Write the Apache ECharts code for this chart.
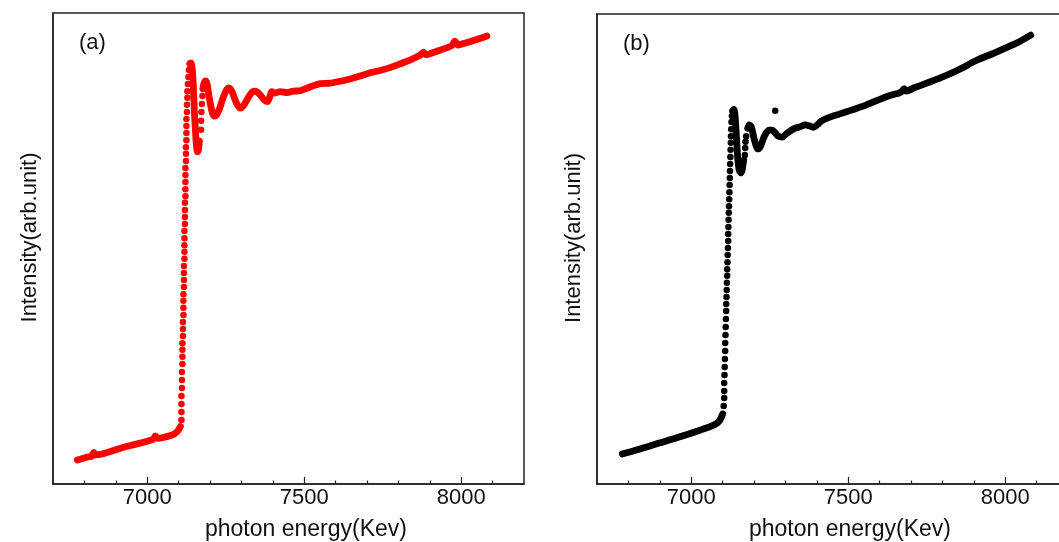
<!DOCTYPE html>
<html>
<head>
<meta charset="utf-8">
<script src="https://cdn.jsdelivr.net/npm/echarts@6/dist/echarts.min.js"></script>
<style>
html,body{margin:0;padding:0;background:#fff;}
#chart{width:1059px;height:542px;}
</style>
</head>
<body>
<div id="chart"></div>
<script>
// ---- tick labels / axis ----
const majorTicks = [7000, 7500, 8000];
const minorTicks = [6800, 6900, 7100, 7200, 7300, 7400, 7600, 7700, 7800, 7900, 8100];
const xName = 'photon energy(Kev)';
const yName = 'Intensity(arb.unit)';
const panelLabels = ['(a)', '(b)'];

// ---- panel (a): [energy, intensity] ----
const preA = [[6777.5,5.1],[6813.4,5.8],[6822.9,5.9],[6830.3,6.7],[6837.3,6.2],[6915.1,7.6],[7010.5,9.3],[7020.0,9.6],[7026.4,10.2],[7032.8,9.7],[7079.5,10.4],[7095.4,11.1],[7105.8,12.2]];
const jumpA = [[7109.0,13.6],[7109.0,15.3],[7109.0,17.0],[7109.0,18.7],[7110.6,20.4],[7110.6,22.1],[7110.6,23.8],[7112.2,25.5],[7112.2,27.0],[7112.2,28.5],[7112.2,29.9],[7113.8,31.4],[7113.8,32.9],[7113.8,34.4],[7115.4,35.9],[7115.4,37.4],[7115.4,38.9],[7115.4,40.3],[7117.0,41.8],[7117.0,43.3],[7117.0,44.8],[7117.0,46.3],[7118.6,47.8],[7118.6,49.3],[7118.6,50.7],[7118.6,52.2],[7118.6,53.7],[7120.2,55.2],[7120.2,56.7],[7120.2,58.2],[7120.2,59.7],[7121.7,61.1],[7121.7,62.6],[7121.7,64.1],[7121.7,65.6],[7121.7,67.1],[7123.3,68.6],[7123.3,70.1],[7123.3,71.5],[7124.9,73.0],[7124.9,74.5],[7124.9,76.0],[7124.9,77.5],[7126.5,79.0],[7126.5,80.5],[7128.1,82.0],[7128.1,83.4],[7129.7,84.9],[7131.3,86.4],[7132.9,87.9],[7136.0,89.2]];
const peakA = [[7136.0,89.2],[7139.2,89.4],[7142.4,88.7],[7145.5,86.2],[7148.1,82.6],[7150.3,79.0],[7153.5,75.2],[7156.7,72.0],[7159.9,70.5],[7163.1,70.9],[7166.2,72.8]];
const riseA = [[7171.6,75.2],[7171.6,77.1],[7172.6,79.0],[7174.2,80.7],[7175.8,82.4]];
const postA = [[7177.4,83.9],[7180.5,85.0],[7185.3,85.6],[7190.1,85.1],[7194.8,83.2],[7201.2,80.7],[7207.6,78.8],[7213.9,78.1],[7220.3,78.3],[7229.8,79.6],[7239.3,81.5],[7248.9,83.2],[7258.4,84.1],[7268.0,83.6],[7277.5,82.0],[7287.0,80.5],[7296.6,79.8],[7306.1,80.3],[7318.8,81.7],[7331.5,83.0],[7341.1,83.4],[7350.6,83.2],[7360.1,82.6],[7372.8,81.5],[7382.4,81.2],[7390.3,82.2],[7396.7,83.3],[7404.6,83.0],[7423.7,83.3],[7446.0,83.1],[7465.0,83.4],[7487.3,83.5],[7503.2,83.9],[7519.1,84.3],[7550.9,85.0],[7582.6,85.1],[7614.4,85.5],[7646.2,86.0],[7678.0,86.6],[7709.8,87.3],[7741.6,87.8],[7773.4,88.4],[7805.2,89.2],[7837.0,90.0],[7862.4,90.8],[7872.0,91.2],[7879.8,91.7],[7887.8,91.1],[7906.8,91.5],[7932.3,92.1],[7957.7,92.7],[7970.4,93.1],[7980.0,94.0],[7989.5,93.2],[8005.4,93.5],[8027.7,93.9],[8059.5,94.6],[8081.7,95.1]];

// ---- panel (b): [energy, intensity] ----
const preB = [[6780.3,6.4],[6834.4,7.4],[6898.1,8.7],[6961.8,10.0],[7025.5,11.4],[7063.7,12.3],[7082.8,13.0],[7092.4,13.7],[7100.3,14.9]];
const jumpB = [[7103.5,16.6],[7105.1,18.3],[7105.1,19.8],[7105.1,21.5],[7106.0,23.2],[7106.7,24.9],[7107.3,26.6],[7108.3,28.3],[7108.3,30.0],[7109.2,31.7],[7109.9,33.4],[7110.5,35.1],[7111.5,36.8],[7111.5,38.3],[7112.4,39.8],[7113.1,41.3],[7113.7,42.8],[7114.6,44.3],[7114.6,45.7],[7115.6,47.2],[7116.2,48.7],[7116.9,50.2],[7117.8,51.7],[7117.8,53.2],[7118.5,54.7],[7119.1,56.2],[7119.7,57.7],[7120.4,59.1],[7121.0,60.6],[7121.7,62.1],[7122.3,63.6],[7122.9,65.1],[7123.6,66.6],[7124.2,68.1],[7124.8,69.6],[7125.5,71.1],[7126.1,72.6],[7126.7,74.0],[7127.4,75.5],[7128.3,77.0],[7129.6,78.3],[7132.2,79.4]];
const peakB = [[7132.2,79.4],[7135.3,79.7],[7138.5,79.1],[7141.7,76.4],[7144.9,72.8],[7148.1,69.4],[7152.9,66.8],[7158.3,66.2],[7162.4,66.8],[7167.2,68.9]];
const riseB = [[7171.0,70.0],[7172.0,71.5],[7172.9,72.8],[7175.2,74.0]];
const postB = [[7179.9,75.7],[7184.7,76.4],[7191.1,76.0],[7197.5,74.3],[7203.8,72.6],[7211.8,71.3],[7219.7,71.7],[7229.3,73.4],[7238.9,74.7],[7248.4,75.3],[7258.0,75.3],[7267.5,74.7],[7277.1,74.0],[7289.8,73.8],[7302.5,74.5],[7315.3,75.1],[7331.2,75.7],[7347.1,76.0],[7363.1,76.4],[7375.8,76.2],[7388.5,75.9],[7401.3,76.4],[7414.0,77.2],[7439.5,78.0],[7471.3,78.7],[7512.7,79.6],[7556.4,80.6],[7598.8,81.8],[7640.2,82.8],[7662.4,83.2],[7672.0,83.6],[7678.3,84.1],[7684.7,83.6],[7710.2,84.3],[7789.8,86.3],[7853.5,88.2],[7907.6,90.1],[7964.9,91.7],[8012.7,93.1],[8044.6,94.1],[8081.2,95.5]];
const outlierB = [[7267.5,79.4]];

const RED = '#ff0000', BLACK = '#000000', AXIS = '#222222';
const FONT = "'Liberation Sans', Arial, sans-serif";

const chart = echarts.init(document.getElementById('chart'), null, {renderer: 'canvas'});

const grids = [
  {left: 53, top: 13, width: 471, height: 471},
  {left: 597, top: 14, width: 471, height: 470}
];

function xAxes(gi) {
  return [
    {
      gridIndex: gi, type: 'value', min: 6700, max: 8200, position: 'bottom',
      axisLine: {show: true, onZero: false, lineStyle: {color: AXIS, width: 1.5}},
      axisTick: {show: true, inside: true, length: 7, customValues: majorTicks, lineStyle: {color: AXIS, width: 1.2}},
      axisLabel: {show: true, customValues: majorTicks, margin: 3, color: '#111', fontSize: 22, fontFamily: FONT,
        formatter: v => String(v)},
      splitLine: {show: false},
      name: xName, nameLocation: 'middle', nameGap: 34,
      nameTextStyle: {color: '#111', fontSize: 23, fontFamily: FONT, padding: [0, 0, 0, 35]}
    },
    {
      gridIndex: gi, type: 'value', min: 6700, max: 8200, position: 'bottom',
      axisLine: {show: false},
      axisTick: {show: true, inside: true, length: 3.5, customValues: minorTicks, lineStyle: {color: AXIS, width: 1.2}},
      axisLabel: {show: false},
      splitLine: {show: false}
    }
  ];
}
function yAxis(gi) {
  return {
    gridIndex: gi, type: 'value', min: 0, max: 100,
    axisLine: {show: true, lineStyle: {color: AXIS, width: 1.5}},
    axisTick: {show: false}, axisLabel: {show: false}, splitLine: {show: false},
    name: yName, nameLocation: 'middle', nameGap: 12,
    nameTextStyle: {color: '#111', fontSize: 22, fontFamily: FONT, padding: [0, 0, 0, 22]}
  };
}

function lineS(data, xi, yi, color) {
  return {type: 'line', data: data, xAxisIndex: xi, yAxisIndex: yi, showSymbol: false, smooth: 0.3,
    lineStyle: {color: color, width: 6.8, cap: 'round', join: 'round'}, silent: true};
}
function dotS(data, xi, yi, color) {
  return {type: 'scatter', data: data, xAxisIndex: xi, yAxisIndex: yi, symbol: 'circle', symbolSize: 6.5,
    itemStyle: {color: color, opacity: 1}, silent: true};
}

const option = {
  animation: false,
  backgroundColor: '#ffffff',
  textStyle: {fontFamily: FONT},
  title: [
    {text: panelLabels[0], left: 74, top: 27, textStyle: {fontSize: 22, fontWeight: 'normal', color: '#111', fontFamily: FONT}},
    {text: panelLabels[1], left: 618, top: 28, textStyle: {fontSize: 22, fontWeight: 'normal', color: '#111', fontFamily: FONT}}
  ],
  grid: grids.map(g => Object.assign({show: true, borderColor: AXIS, borderWidth: 1.5, backgroundColor: 'transparent',
    containLabel: false, outerBoundsMode: 'none'}, g)),
  xAxis: [].concat(xAxes(0), xAxes(1)),
  yAxis: [yAxis(0), yAxis(1)],
  series: [
    lineS(preA, 0, 0, RED), dotS(jumpA, 0, 0, RED), lineS(peakA, 0, 0, RED), dotS(riseA, 0, 0, RED), lineS(postA, 0, 0, RED),
    lineS(preB, 2, 1, BLACK), dotS(jumpB, 2, 1, BLACK), lineS(peakB, 2, 1, BLACK), dotS(riseB, 2, 1, BLACK), lineS(postB, 2, 1, BLACK),
    dotS(outlierB, 2, 1, BLACK)
  ]
};
chart.setOption(option);
</script>
</body>
</html>
